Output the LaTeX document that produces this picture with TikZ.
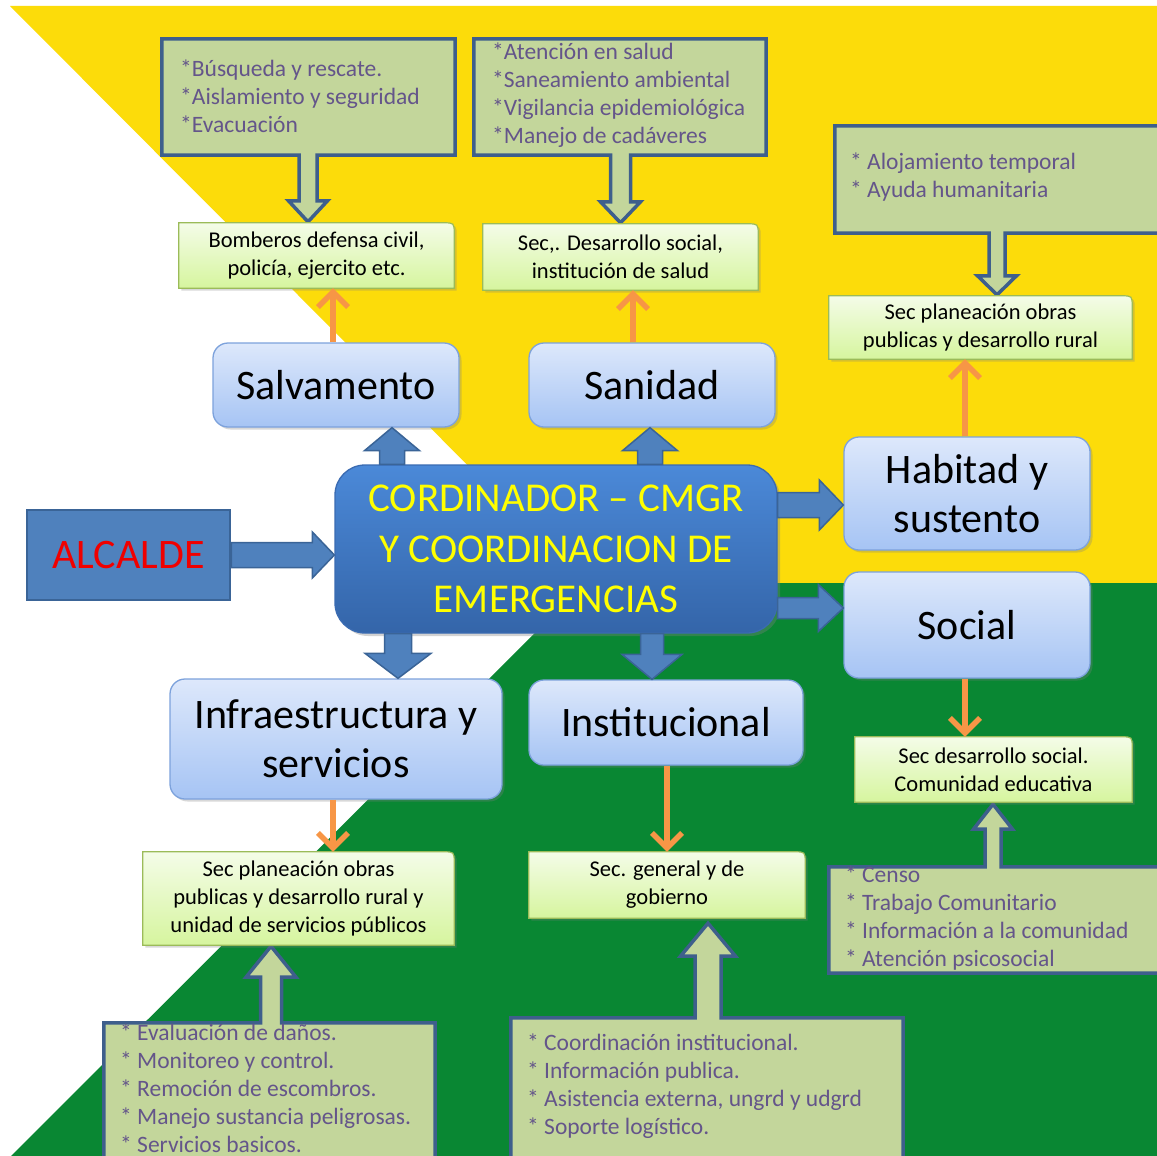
\documentclass[tikz,border=0pt]{standalone}
\usepackage{fontspec}
\setmainfont{Carlito}
\usetikzlibrary{calc,shadows,arrows.meta}

\definecolor{ybg}{HTML}{FCDC0A}
\definecolor{gbg}{HTML}{098733}
\definecolor{cofill}{HTML}{C3D69B}
\definecolor{coline}{HTML}{3E5F8C}
\definecolor{cotext}{HTML}{64558A}
\definecolor{lgtop}{HTML}{F4FCE8}
\definecolor{lgbot}{HTML}{D6F59E}
\definecolor{lgline}{HTML}{9BBB59}
\definecolor{bbtop}{HTML}{DDE8FB}
\definecolor{bbbot}{HTML}{A6C4F4}
\definecolor{bbline}{HTML}{7DA2DC}
\definecolor{cdtop}{HTML}{4B89D8}
\definecolor{cdbot}{HTML}{3465A9}
\definecolor{cdline}{HTML}{3A6BB2}
\definecolor{abfill}{HTML}{4F81BD}
\definecolor{abline}{HTML}{3A6497}
\definecolor{orarr}{HTML}{F79646}

\pgfdeclarelayer{bglayer}
\pgfdeclarelayer{midlayer}
\pgfsetlayers{bglayer,midlayer,main}

% callout: #1 box, #2 tip coord, #3 far side, #4 near side, #5 shaft half width, #6 head half width, #7 head length
\newcommand{\calloutbox}[7]{%
  \coordinate (cB) at (#1.#4 -| #2);
  \coordinate (cH) at ($(#2)!#7pt!(cB)$);
  \draw[cobubble] (#1.#3 west) -- (#1.#3 east) -- (#1.#4 east) -- ($(cB)+(#5,0)$) -- ($(cH)+(#5,0)$) -- ($(cH)+(#6,0)$) -- (#2) -- ($(cH)+(-#6,0)$) -- ($(cH)+(-#5,0)$) -- ($(cB)+(-#5,0)$) -- (#1.#4 west) -- cycle;}

% block arrow: #1 start, #2 tip, #3 shaft half width, #4 head half width, #5 head length
\newcommand{\blockarr}[5]{%
  \coordinate (bH) at ($(#2)!#5pt!(#1)$);
  \draw[barrow] ($(#1)!#3pt!90:(#2)$) -- ($(bH)!#3pt!90:(#2)$) -- ($(bH)!#4pt!90:(#2)$) -- (#2) -- ($(bH)!#4pt!-90:(#2)$) -- ($(bH)!#3pt!-90:(#2)$) -- ($(#1)!#3pt!-90:(#2)$) -- cycle;}

% light green box outline with a rounded top-right corner
\newcommand{\lgshape}[1]{%
  \path[lgbox] (#1.south west) -- (#1.north west) -- ([xshift=-11pt]#1.north east) .. controls (#1.north east) .. ([yshift=-11pt]#1.north east) -- (#1.south east) -- cycle;}

\begin{document}
\begin{tikzpicture}[x=1pt,y=-1pt,
  cobubble/.style={fill=cofill, draw=coline, line width=3.5pt, line join=miter},
  cobox/.style={rectangle, inner sep=0pt},
  bultext/.style={anchor=west, align=left, inner sep=0pt, text=cotext, font=\fontsize{23.5}{28}\selectfont},
  lgtext/.style={rectangle, inner sep=0pt, align=center, text=black, font=\fontsize{22.5}{28}\selectfont},
  lgbox/.style={draw=lgline, line width=1.2pt, top color=lgtop, bottom color=lgbot, drop shadow={shadow xshift=2.5pt, shadow yshift=-2.5pt, opacity=0.3}},
  bluebox/.style={rectangle, rounded corners=15pt, draw=bbline, line width=1.3pt, top color=bbtop, bottom color=bbbot, inner sep=0pt, align=center, font=\fontsize{42}{49}\selectfont, drop shadow={shadow xshift=2.5pt, shadow yshift=-2.5pt, opacity=0.3}},
  coordbox/.style={rectangle, rounded corners=30pt, draw=cdline, line width=1.3pt, top color=cdtop, bottom color=cdbot, inner sep=0pt, align=center, text={rgb,255:red,255;green,255;blue,0}, font=\fontsize{41}{50.5}\selectfont, drop shadow={shadow xshift=3pt, shadow yshift=-3pt, opacity=0.35}},
  alcbox/.style={rectangle, fill=abfill, draw=abline, line width=2.5pt, inner sep=0pt, text={rgb,255:red,240;green,0;blue,0}, font=\fontsize{42}{49}\selectfont},
  barrow/.style={fill=abfill, draw=abline, line width=1.5pt, line join=miter},
  oarrow/.style={draw=orarr, line width=5.5pt, -{Straight Barb[length=15pt,width=30pt]}}
]
\useasboundingbox (0,0) rectangle (1157,1156);

% ---------- background ----------
\begin{pgfonlayer}{bglayer}
\fill[white] (0,0) rectangle (1157,1156);
\fill[ybg] (10,6) -- (1157,6) -- (1157,583) -- (585,583) -- cycle;
\fill[gbg] (585,583) -- (1157,583) -- (1157,1156) -- (11,1156) -- cycle;
\end{pgfonlayer}

% ---------- callout frames (no text) ----------
\node[cobox, minimum width=293pt, minimum height=116pt] (bs) at (308.5,97) {};
\node[cobox, minimum width=292pt, minimum height=116pt] (bsa) at (620,97) {};
\node[cobox, minimum width=355pt, minimum height=107pt] (bh) at (1012.5,179.5) {};
\node[cobox, minimum width=361pt, minimum height=106pt] (bcen) at (1009.5,920) {};
\node[cobox, minimum width=392pt, minimum height=172pt] (bcoo) at (707,1104) {};
\node[cobox, minimum width=331pt, minimum height=167pt] (beva) at (269.5,1106.5) {};

% ---------- light green boxes ----------
\node[lgtext, minimum width=275pt, minimum height=65pt] (bomb) at (316.5,255.5) {Bomberos defensa civil,\\policía, ejercito etc.};
\node[lgtext, minimum width=275pt, minimum height=66pt] (secs) at (620.5,257) {Sec,. Desarrollo social,\\institución de salud};
\node[lgtext, minimum width=303pt, minimum height=63pt] (sph) at (980.5,327.5) {Sec planeación obras\\publicas y desarrollo rural};
\node[lgtext, minimum width=277pt, minimum height=65pt] (secsoc) at (993.5,769.5) {Sec desarrollo social.\\Comunidad educativa};
\node[lgtext, minimum width=311pt, minimum height=93pt] (spi) at (298.5,898.5) {Sec planeación obras\\publicas y desarrollo rural y\\unidad de servicios públicos};
\node[lgtext, minimum width=276pt, minimum height=66pt] (secgen) at (667,885) {Sec. general y de\\gobierno};

% ---------- blue boxes ----------
\node[bluebox, minimum width=246pt, minimum height=84pt] (salv) at (336,385) {Salvamento};
\node[bluebox, minimum width=246pt, minimum height=84pt] (sani) at (652,385) {Sanidad};
\node[bluebox, minimum width=246pt, minimum height=113pt] (hab) at (967,493.5) {Habitad y\\sustento};
\node[bluebox, minimum width=246pt, minimum height=106pt] (social) at (967,625) {Social};
\node[bluebox, minimum width=332pt, minimum height=120pt] (infra) at (336,739) {Infraestructura y\\servicios};
\node[bluebox, minimum width=274pt, minimum height=85pt] (inst) at (666,722.5) {Institucional};
\node[coordbox, minimum width=442pt, minimum height=168pt] (coord) at (556,549) {CORDINADOR – CMGR\\Y COORDINACION DE\\EMERGENCIAS};
\node[alcbox, minimum width=203pt, minimum height=90pt] (alc) at (128.5,555) {ALCALDE};

% ---------- bullet texts ----------
\node[bultext] (bsT) at (180,96.5) {*Búsqueda y rescate.\\*Aislamiento y seguridad\\*Evacuación};
\node[bultext] (bsaT) at (492,95.5) {*Atención en salud\\*Saneamiento ambiental\\*Vigilancia epidemiológica\\*Manejo de cadáveres};
\node[bultext] (bhT) at (850,177.5) {* Alojamiento temporal\\* Ayuda humanitaria};
\node[bultext] (bcenT) at (845,918.5) {* Censo\\* Trabajo Comunitario\\* Información a la comunidad\\* Atención psicosocial};
\node[bultext] (bcooT) at (527,1086.5) {* Coordinación institucional.\\* Información publica.\\* Asistencia externa, ungrd y udgrd\\* Soporte logístico.};
\node[bultext] (bevaT) at (120,1088) {* Evaluación de daños.\\* Monitoreo y control.\\* Remoción de escombros.\\* Manejo sustancia peligrosas.\\* Servicios basicos.};

% ---------- mid layer: callouts and light green shapes ----------
\begin{pgfonlayer}{midlayer}
\coordinate (t1) at ([xshift=-8.5pt,yshift=1pt]bomb.north);
\calloutbox{bs}{t1}{north}{south}{9}{19.5}{21}
\coordinate (t2) at ([yshift=1pt]secs.north);
\calloutbox{bsa}{t2}{north}{south}{10}{20}{21}
\coordinate (t3) at ([xshift=16.5pt,yshift=1pt]sph.north);
\calloutbox{bh}{t3}{north}{south}{8}{19.5}{19}
\coordinate (t4) at ([xshift=-27.5pt,yshift=-1pt]spi.south);
\calloutbox{beva}{t4}{south}{north}{10.5}{25}{31}
\coordinate (t5) at ([xshift=41pt,yshift=-5pt]secgen.south);
\calloutbox{bcoo}{t5}{south}{north}{13}{27.5}{33}
\coordinate (t6) at ([xshift=-0.5pt,yshift=-2pt]secsoc.south);
\calloutbox{bcen}{t6}{south}{north}{8}{19.5}{25}
\lgshape{bomb}
\lgshape{secs}
\lgshape{sph}
\lgshape{secsoc}
\lgshape{spi}
\lgshape{secgen}
\end{pgfonlayer}

% ---------- blue block arrows ----------
\coordinate (aA0) at (alc.east);
\coordinate (aA1) at (coord.west |- alc.east);
\blockarr{aA0}{aA1}{12.5}{23}{22}
\coordinate (aS1) at ([xshift=56pt]salv.south);
\coordinate (aS0) at (coord.north -| aS1);
\blockarr{aS0}{aS1}{12.5}{27.5}{23}
\coordinate (aT1) at ([xshift=-2pt]sani.south);
\coordinate (aT0) at (coord.north -| aT1);
\blockarr{aT0}{aT1}{12.5}{27.5}{23}
\coordinate (aI1) at ([xshift=62pt]infra.north);
\coordinate (aI0) at (coord.south -| aI1);
\blockarr{aI0}{aI1}{13.5}{33}{25}
\coordinate (aN1) at ([xshift=-14pt]inst.north);
\coordinate (aN0) at (coord.south -| aN1);
\blockarr{aN0}{aN1}{11.5}{30}{25}
\coordinate (aH1) at ([yshift=-11.5pt]hab.west);
\coordinate (aH0) at (coord.east |- aH1);
\blockarr{aH0}{aH1}{12.5}{25}{24}
\coordinate (aO1) at ([yshift=17pt]social.west);
\coordinate (aO0) at (coord.east |- aO1);
\blockarr{aO0}{aO1}{10.5}{23.5}{25}

% ---------- orange arrows ----------
\coordinate (o1) at ([xshift=-3pt]salv.north);
\draw[oarrow] (o1) -- (bomb.south -| o1);
\coordinate (o2) at ([xshift=-19pt]sani.north);
\draw[oarrow] (o2) -- (secs.south -| o2);
\coordinate (o3) at ([xshift=-2pt]hab.north);
\draw[oarrow] (o3) -- (sph.south -| o3);
\coordinate (o4) at ([xshift=-2pt]social.south);
\draw[oarrow] (o4) -- (secsoc.north -| o4);
\coordinate (o5) at ([xshift=-3pt]infra.south);
\draw[oarrow] (o5) -- (spi.north -| o5);
\coordinate (o6) at ([xshift=1pt]inst.south);
\draw[oarrow] (o6) -- (secgen.north -| o6);
\end{tikzpicture}
\end{document}
